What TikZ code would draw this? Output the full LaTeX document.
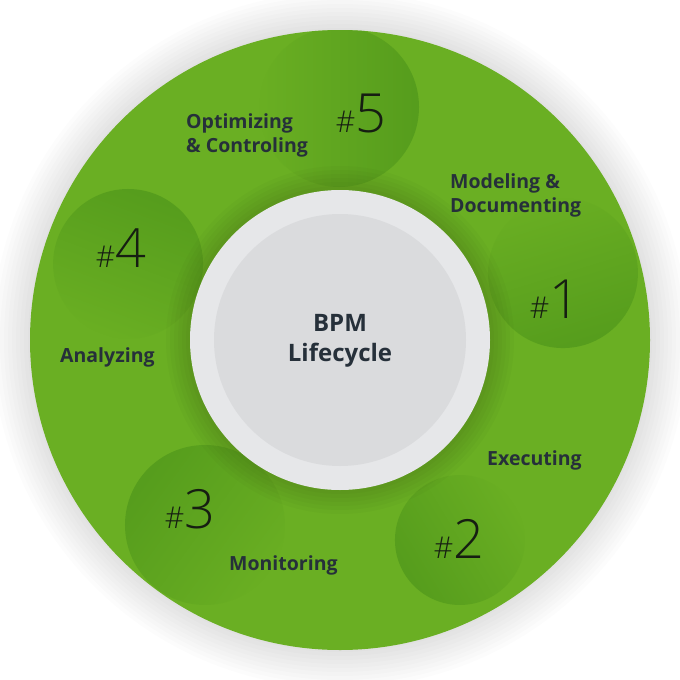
\documentclass[tikz,border=0pt]{standalone}
\usepackage{fontspec}
\setmainfont{Open Sans}
\newfontfamily\numfont{Open Sans Light}
\usetikzlibrary{fadings}

\definecolor{wheelgreen}{RGB}{106,175,35}
\definecolor{lumpgreen}{RGB}{86,157,29}
\definecolor{ringgray}{RGB}{230,231,233}
\definecolor{coregray}{RGB}{218,219,221}
\definecolor{labelink}{RGB}{38,48,58}
\definecolor{numink}{RGB}{22,30,18}

\tikzfading[name=lumpfade, top color=transparent!100, middle color=transparent!35, bottom color=transparent!0]

\begin{document}
\begin{tikzpicture}[
  x=1pt,
  y=-1pt,
  wheel/.style={fill=wheelgreen},
  lump/.style={fill=lumpgreen, path fading=lumpfade, fading angle=#1},
  ring/.style={fill=ringgray},
  core/.style={fill=coregray},
  stage/.style={font=\bfseries\fontsize{19.5}{24}\selectfont, text=labelink, align=left, inner sep=0pt, anchor=west},
  title/.style={font=\bfseries\fontsize{24}{30}\selectfont, text=labelink, align=center, inner sep=0pt},
  stepnum/.style={text=numink, inner sep=0pt, anchor=base}
]
  \useasboundingbox (0,0) rectangle (680,680);
  \fill[white] (0,0) rectangle (680,680);

  % soft shadow round the wheel
  \foreach \r in {348,344,...,312} {
    \fill[black, opacity=0.011] (340,340) circle [radius=\r];
  }
  \fill[wheel] (340,340) circle [radius=310];

  \begin{scope}
    \clip (340,340) circle [radius=310];
    \fill[lump=17] (563,273) circle [radius=75];
    \fill[lump=-59] (460,540) circle [radius=65];
    \fill[lump=-126] (205,525) circle [radius=80];
    \fill[lump=160] (128,264) circle [radius=75];
    \fill[lump=90] (339,107) circle [radius=80];
    % shadow of the centre ring
    \foreach \r in {174,170,...,152} {
      \fill[black, opacity=0.02] (340,340) circle [radius=\r];
    }
  \end{scope}

  \fill[ring] (340,340) circle [radius=150];
  \fill[core] (340,340) circle [radius=126];

  \node[title] (bpm) at (340,341) {BPM\\Lifecycle};

  \node[stage] (model) at (450,195) {Modeling \&\\Documenting};
  \node[stage] (exec) at (487,460) {Executing};
  \node[stage] (monitor) at (229,565) {Monitoring};
  \node[stage] (analyze) at (60,357) {Analyzing};
  \node[stage] (optim) at (186,135) {Optimizing\\\& Controling};

  \node[stepnum] (n1) at (555,318) {\numfont\fontsize{30}{30}\selectfont\#\fontsize{54}{54}\selectfont 1};
  \node[stepnum] (n2) at (459,558) {\numfont\fontsize{30}{30}\selectfont\#\fontsize{54}{54}\selectfont 2};
  \node[stepnum] (n3) at (190,528) {\numfont\fontsize{30}{30}\selectfont\#\fontsize{54}{54}\selectfont 3};
  \node[stepnum] (n4) at (121,267) {\numfont\fontsize{30}{30}\selectfont\#\fontsize{54}{54}\selectfont 4};
  \node[stepnum] (n5) at (361,132) {\numfont\fontsize{30}{30}\selectfont\#\fontsize{54}{54}\selectfont 5};
\end{tikzpicture}
\end{document}
